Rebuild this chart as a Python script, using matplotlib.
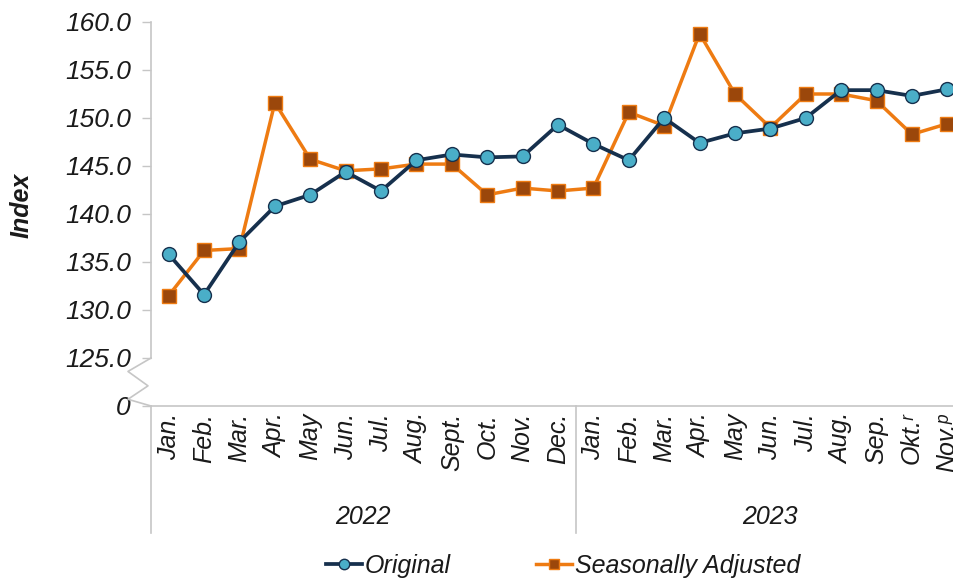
import matplotlib
matplotlib.use("Agg")
import matplotlib.pyplot as plt
from matplotlib.lines import Line2D

plt.rcParams['font.family'] = ['Liberation Sans', 'DejaVu Sans']

months = ["Jan.", "Feb.", "Mar.", "Apr.", "May", "Jun.", "Jul.", "Aug.", "Sept.", "Oct.", "Nov.", "Dec.",
          "Jan.", "Feb.", "Mar.", "Apr.", "May", "Jun.", "Jul.", "Aug.", "Sep.", "Okt.ʳ", "Nov.ᵖ"]
years = ["2022", "2023"]
months_per_year = [12, 11]

original = [135.8, 131.6, 137.1, 140.8, 142.0, 144.4, 142.4, 145.6, 146.2, 145.9, 146.0, 149.3,
            147.3, 145.6, 150.0, 147.4, 148.4, 148.9, 150.0, 152.9, 152.9, 152.3, 153.0]
adjusted = [131.5, 136.2, 136.4, 151.6, 145.7, 144.5, 144.7, 145.2, 145.2, 142.0, 142.7, 142.4,
            142.7, 150.6, 149.2, 158.8, 152.5, 149.0, 152.5, 152.5, 151.8, 148.3, 149.4]

ytick_vals = [120, 125, 130, 135, 140, 145, 150, 155, 160]
ytick_labels = ["0", "125.0", "130.0", "135.0", "140.0", "145.0", "150.0", "155.0", "160.0"]

txt = '#1a1a1a'
grey = '#c6c6c6'

fig = plt.figure(figsize=(9.54, 5.83), dpi=100)
ax = fig.add_axes([151/954, 1-406/583, (965-151)/954, (406-22)/583])

x = list(range(len(months)))
ax.plot(x, adjusted, color='#ee7b12', lw=2.5, marker='s', ms=9.5,
        mfc='#9b470b', mec='#ee7b12', mew=1.0, zorder=3, label='Seasonally Adjusted')
ax.plot(x, original, color='#16304d', lw=2.7, marker='o', ms=10,
        mfc='#4aaec8', mec='#16304d', mew=1.0, zorder=4, label='Original')

ax.set_xlim(-0.5, len(months) - 0.5)
ax.set_ylim(120, 160)
ax.set_yticks(ytick_vals)
ax.set_yticklabels(ytick_labels, fontsize=19, style='italic', color=txt)
ax.tick_params(axis='y', length=6.5, width=1, color=grey, pad=8)

for s in ['top', 'right']:
    ax.spines[s].set_visible(False)
ax.spines['left'].set_bounds(125, 160)
ax.spines['left'].set_color(grey)
ax.spines['bottom'].set_color(grey)
ax.spines['left'].set_linewidth(1.2)
ax.spines['bottom'].set_linewidth(1.2)

# axis break zigzag
zx = [0, -0.0283, -0.0037, -0.0283, 0]
zy = [125, 123.6, 122.1, 120.7, 120]
ax.add_line(Line2D(zx, zy, transform=ax.get_yaxis_transform(), color=grey, lw=1.2, clip_on=False))

# month labels
ax.set_xticks(x)
ax.set_xticklabels(months, rotation=90, fontsize=18, style='italic', color=txt, va='top')
ax.tick_params(axis='x', length=0, pad=5)

# year groups
start = 0
for yr, n in zip(years, months_per_year):
    left = start - 0.5
    right = start + n - 0.5
    ax.add_line(Line2D([left, left], [0, -0.33], transform=ax.get_xaxis_transform(),
                       color=grey, lw=1.2, clip_on=False))
    ax.text((left + right) / 2, -0.289, yr, transform=ax.get_xaxis_transform(),
            ha='center', va='center', fontsize=18, style='italic', color=txt)
    start += n

fig.text(22/954, 1-205/583, "Index", rotation=90, ha='center', va='center',
         fontsize=18, style='italic', weight='bold', color=txt)

h, l = ax.get_legend_handles_labels()
leg = fig.legend(h[::-1], l[::-1], loc='center', bbox_to_anchor=(563/954, 1-566/583), ncol=2,
                 frameon=False, handlelength=1.45, handletextpad=0.1, columnspacing=3.4,
                 prop={'size': 18, 'style': 'italic'}, markerscale=0.75)
for t in leg.get_texts():
    t.set_color(txt)

fig.savefig("out.png", dpi=100)
